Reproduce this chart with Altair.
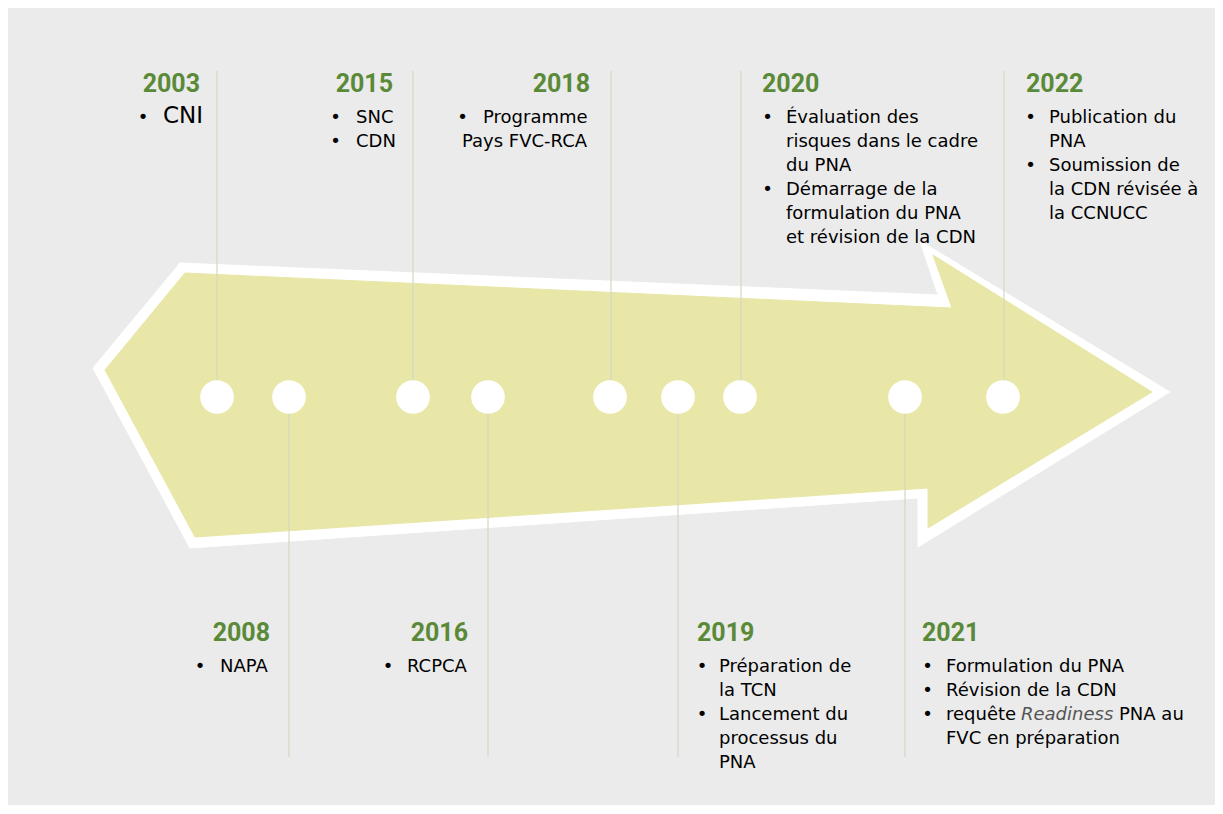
import altair as alt
import pandas as pd

# ---------------- data ----------------
years = ["2003", "2015", "2018", "2008", "2016", "2020", "2022", "2019", "2021"]
year_x = [200, 393, 590, 270, 468, 762, 1026, 697, 922]
year_y = [92, 92, 92, 641, 641, 92, 92, 641, 641]
year_side = ["right", "right", "right", "right", "right", "left", "left", "left", "left"]

circle_x = [217, 289, 413, 488, 610, 678, 740, 905, 1003]
circle_y = [397] * 9

conn_x = [217, 413, 611, 741, 1004, 289, 488, 678, 905]
conn_y1 = [71, 71, 71, 71, 71, 397, 397, 397, 397]
conn_y2 = [397, 397, 397, 397, 397, 757, 757, 757, 757]

body_text = [
    "SNC", "CDN",
    "Programme", "Pays FVC-RCA",
    "Évaluation des", "risques dans le cadre", "du PNA", "Démarrage de la",
    "formulation du PNA", "et révision de la CDN",
    "Publication du", "PNA", "Soumission de", "la CDN révisée à", "la CCNUCC",
    "NAPA",
    "RCPCA",
    "Préparation de", "la TCN", "Lancement du", "processus du", "PNA",
    "Formulation du PNA", "Révision de la CDN", "requête", "PNA au", "FVC en préparation",
]
body_x = [
    356, 356,
    483, 462,
    786, 786, 786, 786, 786, 786,
    1049, 1049, 1049, 1049, 1049,
    220,
    407,
    719, 719, 719, 719, 719,
    946, 946, 946, 1119, 946,
]
body_y = [
    123, 147,
    123, 147,
    123, 147, 171, 195, 219, 243,
    123, 147, 171, 195, 219,
    672,
    672,
    672, 696, 720, 744, 768,
    672, 696, 720, 720, 744,
]

big_text = ["CNI"]
big_x = [163]
big_y = [123]

italic_text = ["Readiness"]
italic_x = [1021]
italic_y = [720]

bullet_x = [143, 335.5, 335.5, 462.5, 767.5, 767.5, 1030.5, 1030.5,
            200, 388, 702, 702, 927.5, 927.5, 927.5]
bullet_y = [123, 123, 147, 123, 123, 195, 123, 171,
            672, 672, 672, 720, 672, 696, 720]

outer_x = [180, 938, 920, 1170, 918, 918, 190, 93]
outer_y = [263, 295, 241, 392, 547, 498, 548, 368]
inner_x = [185, 952, 933, 1152, 928, 928, 195, 105]
inner_y = [273, 308, 255, 392, 528, 488, 537, 370]

# ---------------- chart ----------------
W, H = 1207, 797
X0, Y0 = 8, 8
xs = alt.Scale(domain=[X0, X0 + W], nice=False, zero=False)
ys = alt.Scale(domain=[Y0, Y0 + H], nice=False, zero=False, reverse=True)

FONT = "DejaVu Sans"
GREEN = "#5a8a38"
INK = "#000000"


def xenc(f):
    return alt.X(f, type="quantitative", scale=xs, axis=None)


def yenc(f):
    return alt.Y(f, type="quantitative", scale=ys, axis=None)


outer_df = pd.DataFrame({"px": outer_x, "py": outer_y, "o": range(len(outer_x))})
inner_df = pd.DataFrame({"px": inner_x, "py": inner_y, "o": range(len(inner_x))})

outer = alt.Chart(outer_df).mark_line(
    interpolate="linear-closed", fill="#ffffff", stroke="#ffffff", strokeWidth=1
).encode(x=xenc("px"), y=yenc("py"), order=alt.Order("o:Q"))

inner = alt.Chart(inner_df).mark_line(
    interpolate="linear-closed", fill="#e8e7a8", stroke="#e8e7a8", strokeWidth=1
).encode(x=xenc("px"), y=yenc("py"), order=alt.Order("o:Q"))

conn_df = pd.DataFrame({"x": conn_x, "y1": conn_y1, "y2": conn_y2})
conns = alt.Chart(conn_df).mark_rule(color="#d2d9c2", strokeWidth=1.2).encode(
    x=xenc("x"), y=yenc("y1"), y2="y2:Q"
)

circ_df = pd.DataFrame({"x": circle_x, "y": circle_y})
circles = alt.Chart(circ_df).mark_circle(size=1134, color="#ffffff", opacity=1).encode(
    x=xenc("x"), y=yenc("y")
)

ydf = pd.DataFrame({"t": years, "x": year_x, "y": year_y, "side": year_side})
years_r = alt.Chart(ydf).transform_filter(alt.datum.side == "right").mark_text(
    font="Roboto", fontWeight="bold", fontSize=25, color=GREEN, align="right", baseline="alphabetic"
).encode(x=xenc("x"), y=yenc("y"), text="t:N")
years_l = alt.Chart(ydf).transform_filter(alt.datum.side == "left").mark_text(
    font="Roboto", fontWeight="bold", fontSize=25, color=GREEN, align="left", baseline="alphabetic"
).encode(x=xenc("x"), y=yenc("y"), text="t:N")

bdf = pd.DataFrame({"t": body_text, "x": body_x, "y": body_y})
body = alt.Chart(bdf).mark_text(
    font=FONT, fontSize=18, color=INK, align="left", baseline="alphabetic"
).encode(x=xenc("x"), y=yenc("y"), text="t:N")

bigdf = pd.DataFrame({"t": big_text, "x": big_x, "y": big_y})
big = alt.Chart(bigdf).mark_text(
    font=FONT, fontSize=23, color=INK, align="left", baseline="alphabetic"
).encode(x=xenc("x"), y=yenc("y"), text="t:N")

idf = pd.DataFrame({"t": italic_text, "x": italic_x, "y": italic_y})
ital = alt.Chart(idf).mark_text(
    font=FONT, fontSize=18, fontStyle="italic", color="#555555", align="left", baseline="alphabetic"
).encode(x=xenc("x"), y=yenc("y"), text="t:N")

bul_df = pd.DataFrame({"x": bullet_x, "y": bullet_y, "t": ["•"] * len(bullet_x)})
bullets = alt.Chart(bul_df).mark_text(
    font=FONT, fontSize=18, color=INK, align="center", baseline="alphabetic"
).encode(x=xenc("x"), y=yenc("y"), text="t:N")

chart = alt.layer(
    outer, inner, conns, circles, years_r, years_l, body, big, ital, bullets
).properties(
    width=W, height=H, autosize=alt.AutoSizeParams(type="none"), padding=0,
    background="#ebebeb",
).configure_view(stroke=None)

chart.save("out.html", embed_options={"renderer": "svg", "actions": False})
